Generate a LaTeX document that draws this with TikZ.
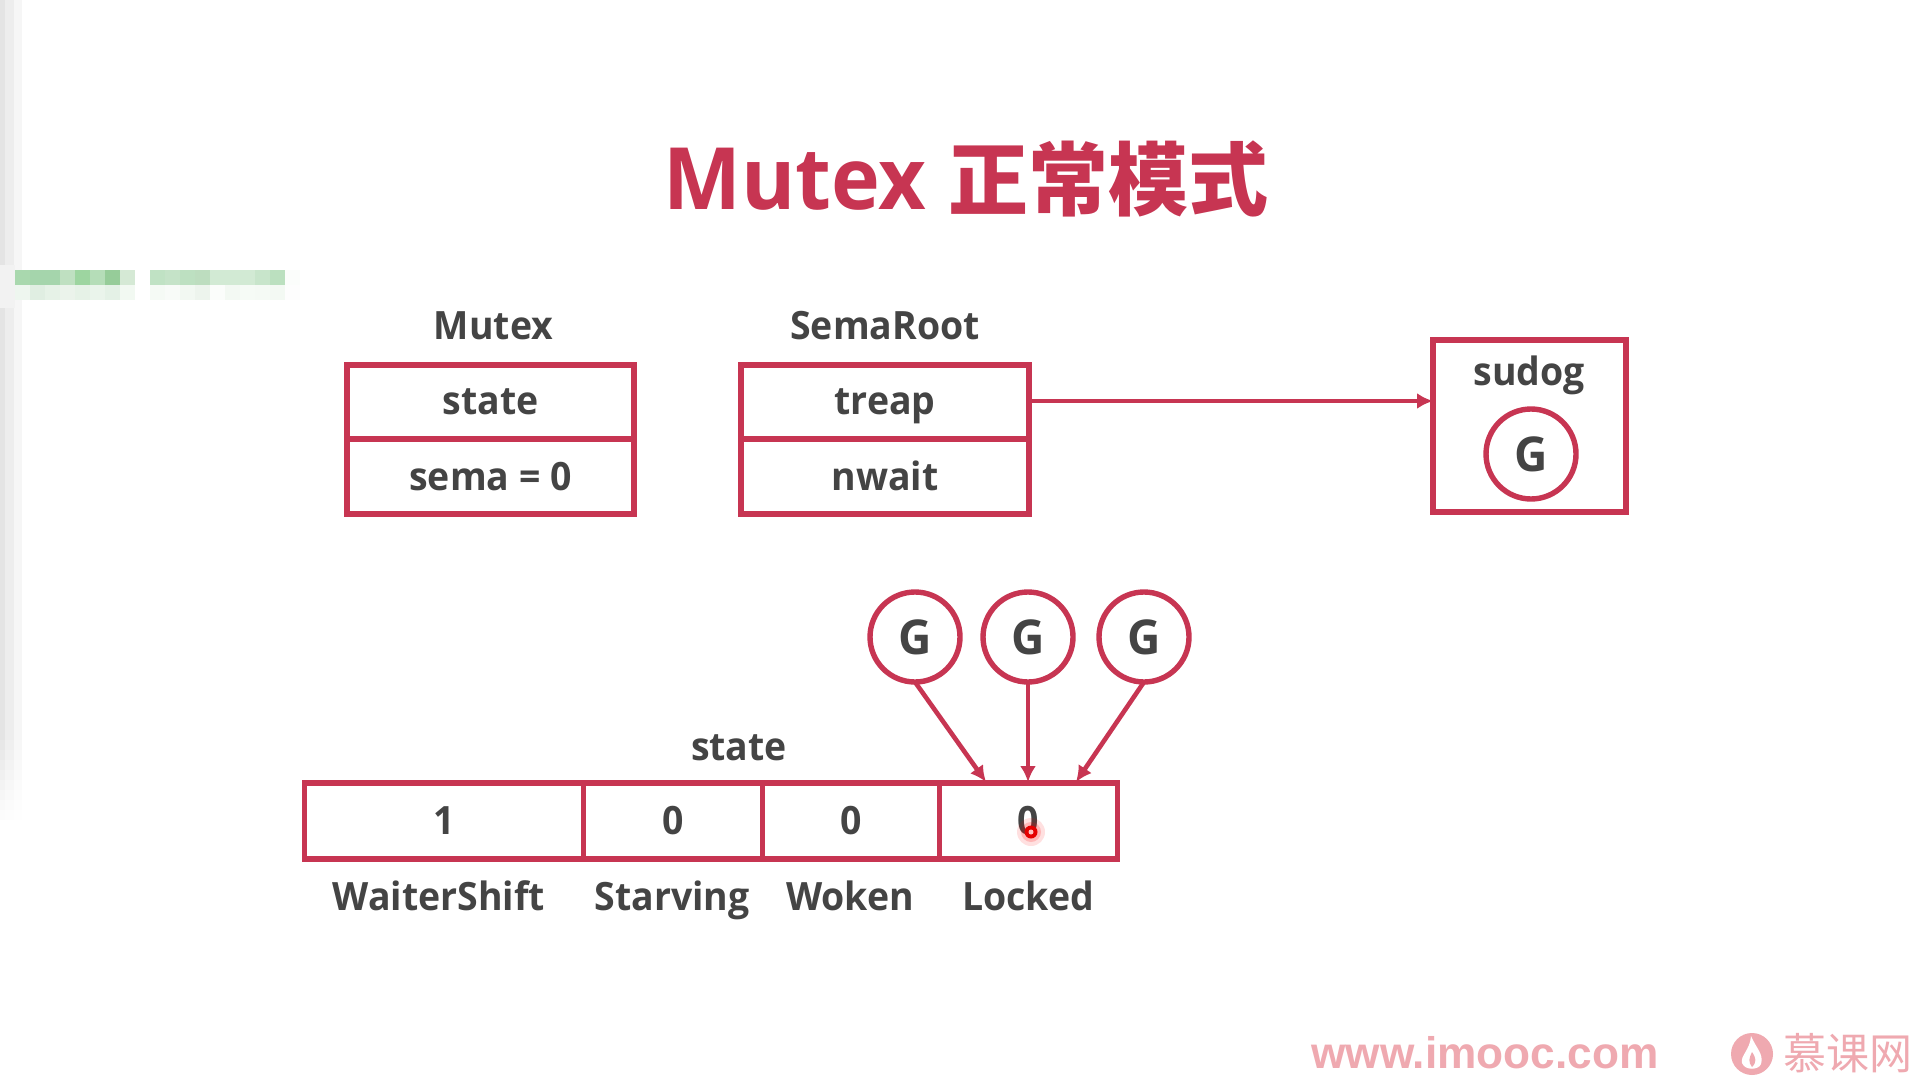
\documentclass[tikz,border=0pt]{standalone}
\usepackage{fontspec}
\setmainfont{Open Sans}[FakeStretch=0.96]
\newfontfamily\cjkfont{Noto Sans CJK SC}
\newfontfamily\wmfont{Liberation Sans}
\usetikzlibrary{arrows.meta,shapes.geometric,fadings}
\definecolor{crim}{HTML}{C73552}
\definecolor{ink}{HTML}{444444}
\definecolor{wm}{HTML}{EFA9B0}
\tikzset{
  cell/.style={draw=crim,line width=2.7pt,fill=white,rectangle,inner sep=0pt,outer sep=0pt,
    text=ink,font=\fontsize{19.5}{20}\selectfont\bfseries,text height=13pt,text depth=0pt,align=center,anchor=center},
  lab/.style={text=ink,font=\fontsize{19.5}{20}\selectfont\bfseries,inner sep=0pt,outer sep=0pt,anchor=base},
  gor/.style={circle,draw=crim,line width=2.7pt,fill=white,minimum size=45pt,inner sep=0pt,outer sep=0pt,
    text=ink,font=\fontsize{24}{24}\selectfont\bfseries,text height=17pt,text depth=0pt},
  link/.style={draw=crim,line width=2.3pt,-{Latex[length=8pt,width=8pt]}}
}
\begin{document}
\begin{tikzpicture}[x=0.5pt,y=-0.5pt]
\useasboundingbox (0,0) rectangle (1920,1080);
\fill[white] (0,0) rectangle (1920,1080);
% left edge shadow
\foreach \b in {740,750,...,820}{
  \fill[black,opacity=.011,path fading=east] (0,0) rectangle (26,\b);}
\fill[black!5] (0,265) rectangle (15,308);
% mosaic
\foreach \c [count=\i from 0] in {A9D8AE,A5D5AC,A5D5AC,BFE0C1,9DD5A0,B5DDB8,96CC99,D5E9D5}{
  \definecolor{tmpc}{HTML}{\c}\fill[tmpc] ({15+15*\i},270) rectangle ++(15.4,15.4);}
\foreach \c [count=\i from 0] in {EEF6EF,E0EEE2,E6F2E7,EBF3EB,E6F2E7,EAF4EB,E4F1E6,F2F9F2}{
  \definecolor{tmpc}{HTML}{\c}\fill[tmpc] ({15+15*\i},285) rectangle ++(15.4,15.4);}
\foreach \c [count=\i from 0] in {C0E2C4,C5E3C8,BDE0C1,BDDDBF,D2EAD4,D2EAD4,D2EAD4,C8E5CB,BBE0BF,FBFDFB}{
  \definecolor{tmpc}{HTML}{\c}\fill[tmpc] ({150+15*\i},270) rectangle ++(15.4,15.4);}
\foreach \c [count=\i from 0] in {F5FAF5,F8FBF8,F2F8F2,EDF4ED,FBFDFB,F3F9F3,F6FBF6,F5FAF5,F3F9F3,FDFDFD}{
  \definecolor{tmpc}{HTML}{\c}\fill[tmpc] ({150+15*\i},285) rectangle ++(15.4,15.4);}
% title
\node[anchor=base,inner sep=0pt,text=crim,font=\fontsize{43}{46}\selectfont\bfseries] (title) at (966,210) {Mutex {\cjkfont\fontsize{40}{46}\selectfont\bfseries 正常模式}};
% Mutex
\node[lab] (mutexlab) at (493.5,340) {Mutex};
\node[cell,text height=12pt,minimum width=143.5pt,minimum height=37pt] (mstate) at (490.5,402) {state};
\node[cell,text height=13.5pt,minimum width=143.5pt,minimum height=37.5pt] (msema) at (490.5,476.5) {sema = 0};
% SemaRoot
\node[lab] (semalab) at (885,340) {SemaRoot};
\node[cell,text height=12pt,minimum width=144pt,minimum height=37pt] (treap) at (885,402) {treap};
\node[cell,text height=13.5pt,minimum width=144pt,minimum height=37.5pt] (nwait) at (885,476.5) {nwait};
% sudog
\node[draw=crim,line width=2.7pt,rectangle,minimum width=96.5pt,minimum height=86pt,inner sep=0pt,outer sep=0pt] (sudogbox) at (1529.5,426) {};
\node[lab] (sudoglab) at (1529,386) {sudog};
\node[gor] (gs) at (1531,454) {G};
\coordinate (arrowstart) at (treap.east |- 0,401);
\draw[link] (arrowstart) -- (sudogbox.west |- arrowstart);
% goroutines
\node[gor] (g1) at (915,637) {G};
\node[gor] (g2) at (1028,637) {G};
\node[gor] (g3) at (1144,637) {G};
% state bar
\node[lab] (statelab) at (739,760) {state};
\node[cell,minimum width=139.5pt,minimum height=38pt] (c1) at (444,821) {1};
\node[cell,minimum width=89.5pt,minimum height=38pt] (c2) at (673,821) {0};
\node[cell,minimum width=88.5pt,minimum height=38pt] (c3) at (851,821) {0};
\node[cell,minimum width=89pt,minimum height=38pt] (c4) at (1028.5,821) {0};
\node[lab] (l1) at (439,910) {WaiterShift};
\node[lab] (l2) at (672,910) {Starving};
\node[lab] (l3) at (850,910) {Woken};
\node[lab] (l4) at (1028,910) {Locked};
\coordinate (t1) at (986,782);
\coordinate (t2) at (1028,782);
\coordinate (t3) at (1076,782);
\draw[link] (g1.south) -- (t1);
\draw[link] (g2.south) -- (t2);
\draw[link] (g3.south) -- (t3);
% pointer
\fill[red,opacity=.12] (1031,832) circle (14);
\fill[red,opacity=.18] (1031,832) circle (10);
\fill[red!90!black] (1031,832) circle (6.5);
\fill[red!25] (1031,832) circle (2.5);
% watermark
\node[anchor=base,inner sep=0pt,text=wm,font=\wmfont\fontsize{22.1}{20}\selectfont\bfseries] (site) at (1485,1068) {www.imooc.com};
\fill[wm] (1752,1054) circle (21);
\fill[white] (1751,1036) .. controls (1756,1048) and (1764,1054) .. (1761,1064) .. controls (1759,1070) and (1745,1071) .. (1742,1063) .. controls (1740,1056) and (1750,1050) .. (1751,1036) -- cycle;
\fill[wm] (1752,1052) .. controls (1756,1058) and (1757,1062) .. (1752,1067) .. controls (1748,1062) and (1749,1058) .. (1752,1052) -- cycle;
\node[anchor=base,inner sep=0pt,text=wm,font=\cjkfont\fontsize{21.5}{20}\selectfont] (brand) at (1848,1069) {慕课网};
\end{tikzpicture}
\end{document}
